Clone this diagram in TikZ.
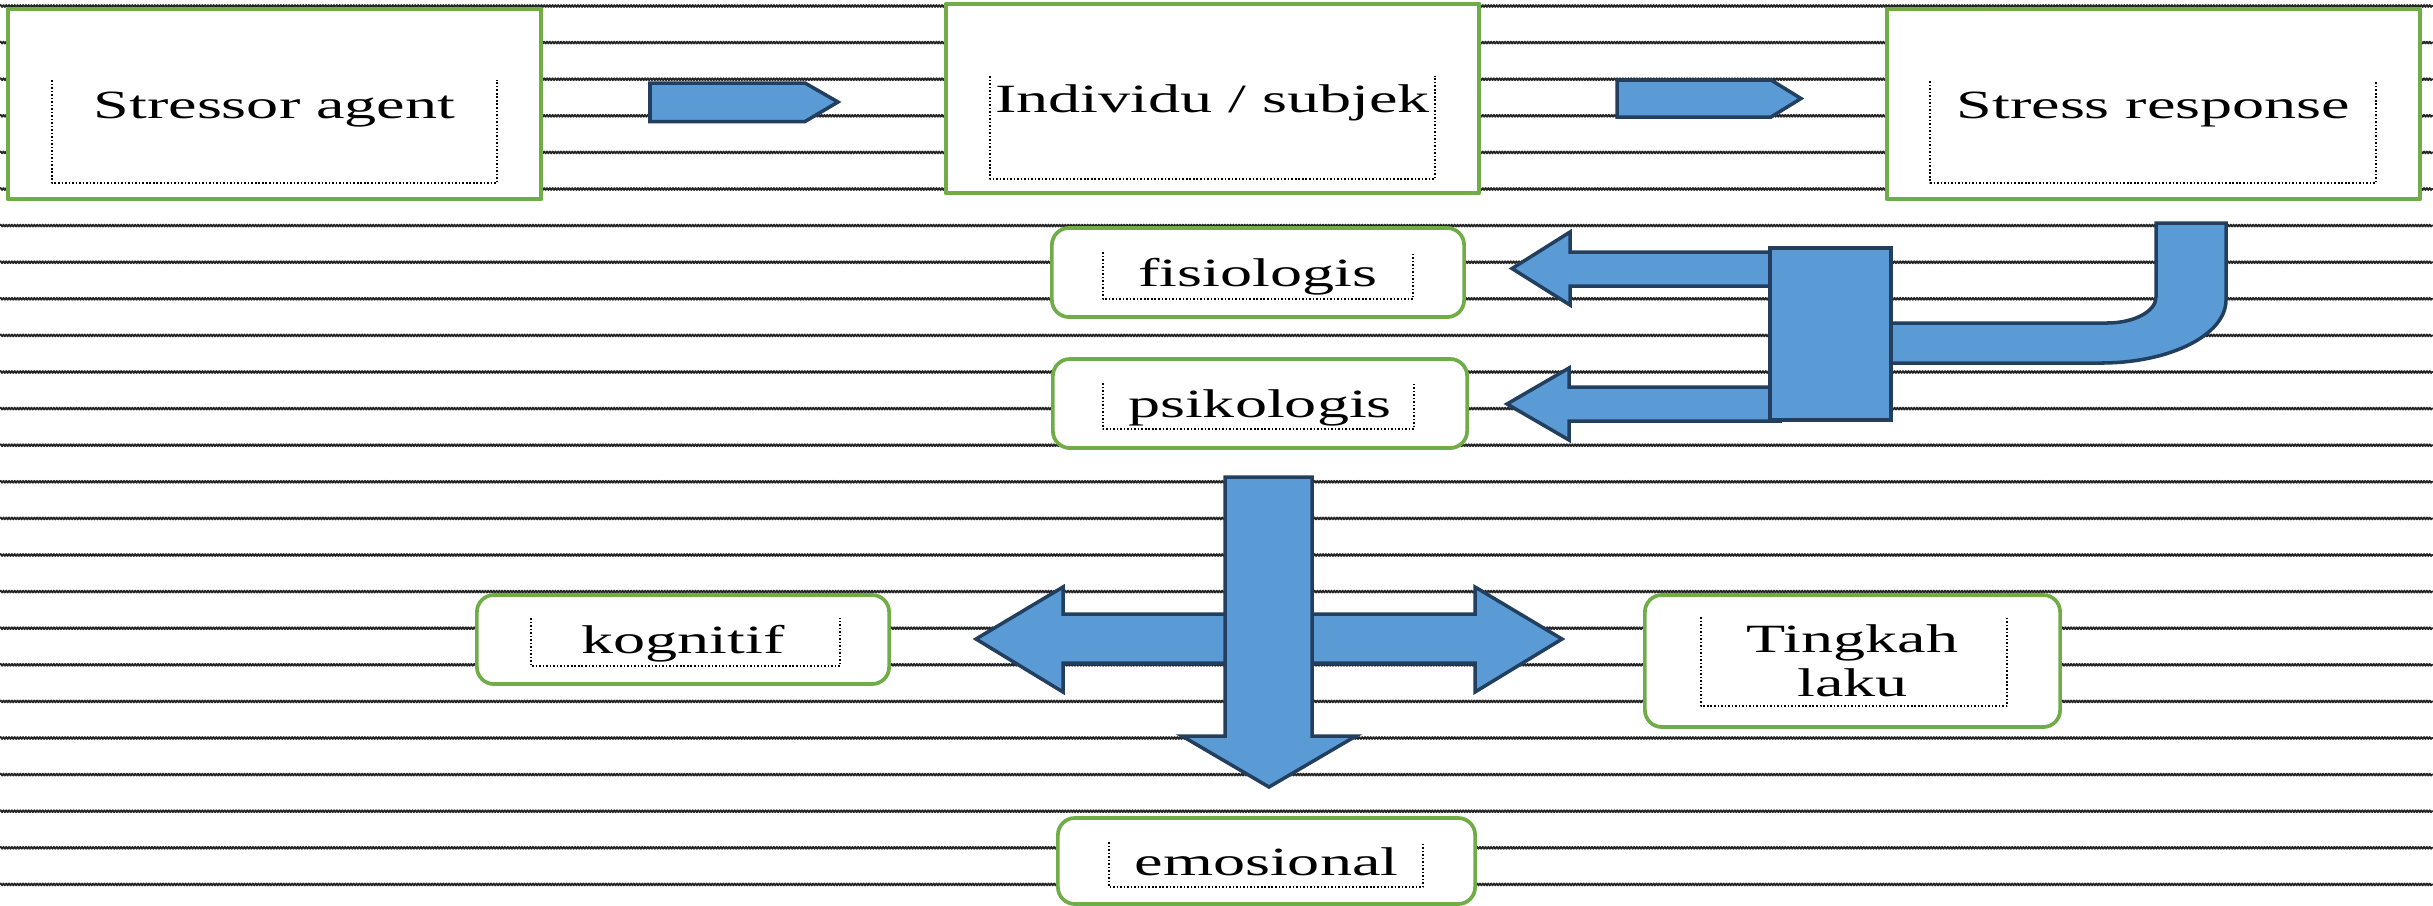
\documentclass[tikz,border=0pt]{standalone}
\usepackage{fontspec}
\setmainfont{Liberation Serif}[FakeStretch=1.6]
\usepackage{xcolor}
\usepackage{tikz}
\usetikzlibrary{decorations.pathmorphing}
\definecolor{framegreen}{HTML}{70AD47}
\definecolor{arrowblue}{HTML}{5B9BD5}
\definecolor{arrowedge}{HTML}{223F60}

\begin{document}
\begin{tikzpicture}[x=0.01cm,y=-0.01cm,line join=round,
	wave/.style={black!85,line width=0.5pt,decorate,decoration={zigzag,segment length=0.028cm,amplitude=0.010cm}},
	blk/.style={fill=arrowblue,draw=arrowedge,line width=1pt,line join=miter},
	lbl/.style={inner sep=0pt,fill=white,draw=framegreen,font=\fontsize{11.4pt}{12.5pt}\selectfont},
	oneline/.style={text height=0.30cm,text depth=0.02cm},
	topbox/.style={lbl,oneline,line width=1.3pt},
	roundbox/.style={lbl,line width=1.05pt,rounded corners=0.17cm},
	dotbox/.style={black,line width=0.45pt,dash pattern=on 0.45pt off 0.55pt}]
\useasboundingbox (0,0) rectangle (2433,905);
% ruled background
\foreach \k in {0,...,24} \draw[wave] (0,6+36.6*\k) -- (2433,6+36.6*\k);
% small arrows on top row
\draw[blk] (650,83) -- (805,83) -- (838,102) -- (805,121.5) -- (650,121.5) -- cycle;
\draw[blk] (1617,80) -- (1771,80) -- (1801,98.5) -- (1771,117) -- (1617,117) -- cycle;
% split towards fisiologis / psikologis
\draw[blk] (1780,252) -- (1570,252) -- (1570,232) -- (1512,268.5) -- (1570,305) -- (1570,286) -- (1780,286) -- cycle;
\draw[blk] (1780,387) -- (1569,387) -- (1569,368) -- (1507,404) -- (1569,440) -- (1569,421) -- (1780,421) -- cycle;
\draw[blk] (1880,323) -- (2107,323) arc[start angle=90,end angle=0,x radius=49,y radius=26] -- (2156,223) -- (2226,223) -- (2226,300) arc[start angle=0,end angle=90,x radius=125,y radius=63] -- (1880,363) -- cycle;
\draw[blk] (1770,248) rectangle (1891,420);
% cross
\draw[blk] (976,639) -- (1063,587) -- (1063,614) -- (1475,614) -- (1475,587) -- (1562,639) -- (1475,692) -- (1475,663) -- (1063,663) -- (1063,692) -- cycle;
\draw[blk] (1225,477) -- (1312,477) -- (1312,736) -- (1356,736) -- (1269,787) -- (1182,736) -- (1225,736) -- cycle;
% boxes
\node[topbox,minimum width=5.33cm,minimum height=1.90cm] (stressor) at (274.5,104) {Stressor agent};
\node[topbox,minimum width=5.33cm,minimum height=1.89cm] (individu) at (1212.5,98.5) {Individu / subjek};
\node[topbox,minimum width=5.33cm,minimum height=1.90cm] (response) at (2153.5,104) {Stress response};
\node[roundbox,oneline,minimum width=4.12cm,minimum height=0.89cm] (fisiologis) at (1258,272.5) {fisiologis};
\node[roundbox,oneline,minimum width=4.14cm,minimum height=0.89cm] (psikologis) at (1260,403.5) {psikologis};
\node[roundbox,oneline,minimum width=4.12cm,minimum height=0.89cm] (kognitif) at (683,639.5) {kognitif};
\node[roundbox,align=center,minimum width=4.15cm,minimum height=1.32cm] (tingkah) at (1852.5,661) {Tingkah\\laku};
\node[roundbox,oneline,minimum width=4.17cm,minimum height=0.86cm] (emosional) at (1266.5,861) {emosional};
% text frames, open at the top
\foreach \xa/\ya/\xb/\yb in {52/80/497/183,990/76/1435/179,1930/81/2376/183,1103/252/1413/299,1103/383/1414/429,531/618/840/666,1701/617/2007/706,1109/842/1423/887}
	\draw[dotbox] (\xa,\ya) -- (\xa,\yb) -- (\xb,\yb) -- (\xb,\ya);
\end{tikzpicture}
\end{document}
